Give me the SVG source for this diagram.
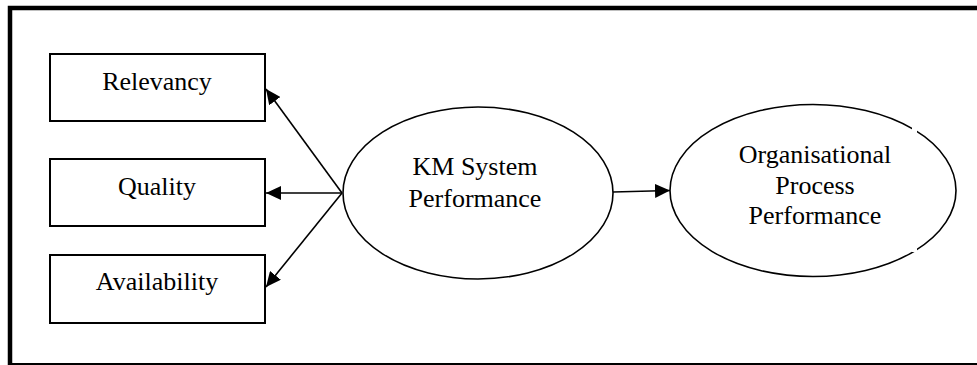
<svg xmlns="http://www.w3.org/2000/svg" width="977" height="365" viewBox="0 0 977 365">
<style>
.box{fill:#fff;stroke:#000;stroke-width:2}
.ell{fill:#fff;stroke:#000;stroke-width:1.6}
.lbl{font-family:"Liberation Serif","Times New Roman",serif;font-size:26px;fill:#000;text-anchor:middle}
.conn{stroke:#000;stroke-width:1.6;fill:none;marker-end:url(#ah)}
</style>
<defs>
<marker id="ah" viewBox="0 0 15 14" refX="15" refY="7" markerWidth="15" markerHeight="14" markerUnits="userSpaceOnUse" orient="auto">
<path d="M0,0 L15,7 L0,14 Z" fill="#000"/>
</marker>
</defs>
<rect width="977" height="365" fill="#fff"/>
<g id="frame">
<path d="M10,365 V8 H977" fill="none" stroke="#000" stroke-width="4.5"/>
<line x1="10" y1="364" x2="977" y2="364" stroke="#000" stroke-width="2"/>
</g>
<g id="relevancy">
<rect class="box" x="50" y="54" width="215" height="67"/>
<text class="lbl" x="157" y="90">Relevancy</text>
</g>
<g id="quality">
<rect class="box" x="50" y="159" width="215" height="67"/>
<text class="lbl" x="157" y="195">Quality</text>
</g>
<g id="availability">
<rect class="box" x="50" y="255" width="215" height="68"/>
<text class="lbl" x="157" y="290">Availability</text>
</g>
<g id="km">
<ellipse class="ell" cx="478" cy="193" rx="135" ry="86"/>
<text class="lbl" x="475" y="175">KM System</text>
<text class="lbl" x="475" y="207">Performance</text>
</g>
<g id="org">
<ellipse class="ell" cx="813" cy="190.5" rx="143" ry="86"/>
<rect x="912" y="127" width="5" height="6" fill="#fff"/>
<rect x="912" y="246" width="5" height="6" fill="#fff"/>
<text class="lbl" x="815" y="163">Organisational</text>
<text class="lbl" x="815" y="194">Process</text>
<text class="lbl" x="815" y="224">Performance</text>
</g>
<g id="connectors">
<line class="conn" x1="342" y1="193" x2="266" y2="89"/>
<line class="conn" x1="342" y1="193" x2="266" y2="193"/>
<line class="conn" x1="342" y1="193" x2="266" y2="287"/>
<line class="conn" x1="613" y1="192" x2="670" y2="190.5"/>
</g>
</svg>
